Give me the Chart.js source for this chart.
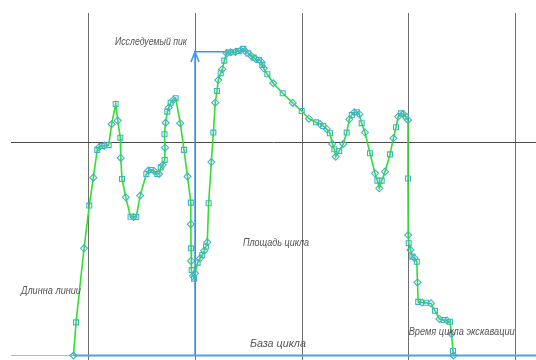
<!DOCTYPE html>
<html>
<head>
<meta charset="utf-8">
<script src="https://cdn.jsdelivr.net/npm/chart.js@4.4.1/dist/chart.umd.min.js"></script>
<style>
html,body{margin:0;padding:0;background:#fff;overflow:hidden;}
#wrap{width:536px;height:360px;position:relative;}
</style>
</head>
<body>
<div id="wrap"><canvas id="c"></canvas></div>
<script>
// ---- data (time units: grid step = 10, value units: reference line = 100) ----
const timeX = [8.61,8.85,9.60,10.09,10.47,10.84,11.00,11.26,11.50,11.91,12.19,12.57,12.76,13.00,13.04,13.16,13.51,13.96,14.24,14.49,
14.86,15.44,15.62,15.88,16.19,16.47,16.63,16.79,16.97,17.16,17.19,17.14,17.25,17.40,17.54,17.72,17.97,18.19,18.62,18.97,
19.30,19.61,19.61,19.63,19.63,19.69,19.81,19.91,20.00,20.25,20.47,20.68,20.87,21.03,21.15,21.28,21.53,21.72,21.90,22.06,
22.18,22.41,22.56,22.75,22.97,23.12,23.35,23.59,23.81,24.06,24.28,24.53,24.69,25.00,25.25,25.50,25.69,26.00,26.19,26.31,
26.44,26.78,27.34,28.22,29.16,30.00,30.68,31.34,31.72,32.02,32.34,32.65,32.87,33.06,33.19,33.52,33.90,34.22,34.46,34.69,
34.93,35.16,35.40,35.62,35.93,36.40,36.87,37.09,37.27,37.50,37.81,38.28,38.59,38.84,39.05,39.31,39.52,39.75,39.96,39.96,
39.98,40.03,40.20,40.37,40.57,40.79,40.85,40.92,41.27,41.65,42.12,42.49,42.91,43.29,43.62,43.90,44.04,44.18,44.23];
const valueY = [0,15.5,50.2,70.2,83.3,96.3,97.5,98.1,98.3,98.5,108.3,117.8,110.0,102.0,92.5,82.7,74.1,65.0,64.9,64.9,
74.9,85.0,86.6,86.9,86.3,85.0,85.0,88.1,89.2,91.6,97.3,103.6,109.0,114.2,116.1,118.4,119.7,120.5,108.8,96.3,
83.8,71.6,61.5,50.2,44.3,40.0,37.2,36.0,38.5,43.5,45.5,47.1,49.1,51.0,53.0,71.3,90.6,104.4,118.4,123.9,
129.0,132.2,134.1,138.1,141.5,142.0,142.0,142.0,142.2,142.6,142.9,143.6,142.6,141.5,140.4,139.5,138.9,138.4,137.6,136.1,
134.5,131.7,127.5,122.8,118.3,114.5,110.9,109.2,108.4,107.5,106.1,104.1,99.1,96.6,93.1,95.8,99.1,104.4,110.6,112.6,
113.9,113.9,113.0,108.8,104.4,94.7,85.3,81.9,78.3,81.9,86.1,94.2,101.7,106.9,111.9,113.4,113.1,111.9,110.3,82.9,
56.4,52.6,49.4,46.3,45.7,43.9,34.2,25.1,24.8,24.7,24.4,21.0,17.1,16.6,16.4,15.8,10.1,2.1,0];

const gridX = [10,20,30,40,50];
const gridY = [100];

const cycleStartX = 8.61;   // start of the cycle base
const peakX = 20.0;         // investigated peak marker position
const peakTopY = 142.2;
const peakEndX = 22.97;

const labelTexts = ["Исследуемый пик","Площадь цикла","Длинна линии","База цикла","Время цикла экскавации"];
const labelX = [12.50, 24.50, 3.69, 25.15, 40.03];
const labelY = [146.8, 52.7, 30.4, 5.7, 11.1];
const labelW = [72, 66, 60, 56, 106];

const X_MIN = 2.755, X_MAX = 51.96, Y_MIN = -2.11, Y_MAX = 160.4;

// ---- build datasets ----
const curve = timeX.map((x,i)=>({x:x, y:valueY[i]}));
const markerStyles = timeX.map((_,i)=> i%2 ? 'rect' : 'rectRot');

const gridPlugin = {
  id:'cadGrid',
  beforeDatasetsDraw(chart){
    const {ctx, chartArea:a, scales:{x,y}} = chart;
    ctx.save();
    ctx.lineWidth = 1;
    ctx.strokeStyle = '#6e6e6e';
    gridX.forEach(v=>{
      const px = Math.round(x.getPixelForValue(v))+0.5;
      ctx.beginPath(); ctx.moveTo(px,a.top); ctx.lineTo(px,a.bottom); ctx.stroke();
    });
    ctx.strokeStyle = '#4a4a4a';
    gridY.forEach(v=>{
      const py = Math.round(y.getPixelForValue(v))+0.5;
      ctx.beginPath(); ctx.moveTo(a.left,py); ctx.lineTo(a.right,py); ctx.stroke();
    });
    ctx.restore();
  },
  afterDraw(chart){
    const {ctx, scales:{x,y}} = chart;
    ctx.save();
    ctx.fillStyle = '#555555';
    ctx.font = 'italic 11.5px "Liberation Sans", "DejaVu Sans", sans-serif';
    ctx.textBaseline = 'middle';
    labelTexts.forEach((t,i)=>{
      const px = x.getPixelForValue(labelX[i]);
      const py = y.getPixelForValue(labelY[i]);
      const w = ctx.measureText(t).width;
      const s = labelW[i]/w;
      ctx.save();
      ctx.translate(px,py);
      ctx.scale(s,1);
      ctx.fillText(t,0,0);
      ctx.restore();
    });
    ctx.restore();
  }
};

new Chart(document.getElementById('c'), {
  type:'scatter',
  data:{
    datasets:[
      { // pink base before cycle
        data:[{x:X_MIN,y:0},{x:cycleStartX,y:0}],
        showLine:true, borderColor:'#e6a3ab', borderWidth:1, pointRadius:0, order:5
      },
      { // blue base line
        data:[{x:cycleStartX,y:0},{x:X_MAX,y:0}],
        showLine:true, borderColor:'#4da0ea', borderWidth:2.2, pointRadius:0, order:4
      },
      { // peak marker
        data:[{x:peakX,y:0},{x:peakX,y:peakTopY},{x:peakEndX,y:peakTopY}],
        showLine:true, borderColor:'#3f95ee', borderWidth:1.5, pointRadius:0, order:3
      },
      { // arrow head
        data:[{x:peakX-0.375,y:peakTopY-4.7},{x:peakX,y:peakTopY},{x:peakX+0.375,y:peakTopY-4.7}],
        showLine:true, borderColor:'#3f95ee', borderWidth:1.5, pointRadius:0, order:3
      },
      { // main curve
        data:curve, showLine:true, tension:0,
        borderColor:'#30e030', borderWidth:1.6,
        pointStyle:markerStyles, pointRadius:3.5,
        pointBorderColor:'#3fb3c6', pointBorderWidth:1.1,
        pointBackgroundColor:'rgba(255,255,255,0)', order:1
      }
    ]
  },
  options:{
    responsive:true, maintainAspectRatio:false, animation:false,
    layout:{autoPadding:false, padding:{left:11, top:13, right:0, bottom:0}},
    plugins:{legend:{display:false}, tooltip:{enabled:false}},
    scales:{
      x:{type:'linear', min:X_MIN, max:X_MAX, display:false},
      y:{type:'linear', min:Y_MIN, max:Y_MAX, display:false}
    }
  },
  plugins:[gridPlugin]
});
</script>
</body>
</html>
